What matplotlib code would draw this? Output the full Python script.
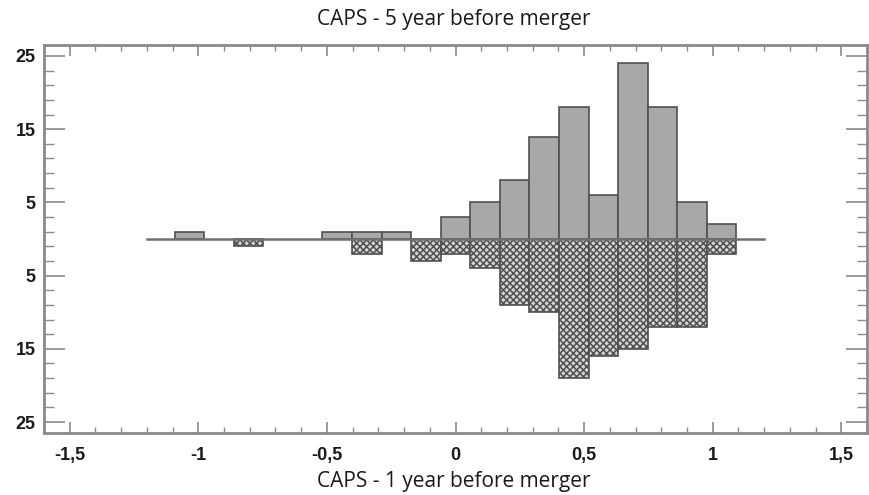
import matplotlib
matplotlib.use("Agg")
import matplotlib.pyplot as plt
import numpy as np
from matplotlib.ticker import FixedLocator, FuncFormatter

# Data: bin centres and counts
bin_centers = [-1.035, -0.920, -0.805, -0.690, -0.575, -0.460, -0.345, -0.230, -0.115,
               0.0, 0.115, 0.230, 0.345, 0.460, 0.575, 0.690, 0.805, 0.920, 1.035]
bin_width = 0.115
counts_5yr = [1, 0, 0, 0, 0, 1, 1, 1, 0, 3, 5, 8, 14, 18, 6, 24, 18, 5, 2]
counts_1yr = [0, 0, 1, 0, 0, 0, 2, 0, 3, 2, 4, 9, 10, 19, 16, 15, 12, 12, 2]

x_ticks = [-1.5, -1, -0.5, 0, 0.5, 1, 1.5]
y_ticks = [25, 15, 5, -5, -15, -25]

title_text = "CAPS - 5 year before merger"
xlabel_text = "CAPS - 1 year before merger"

plt.rcParams['hatch.linewidth'] = 1.1
plt.rcParams['hatch.color'] = '#2e2e2e'

fig = plt.figure(figsize=(8.69, 4.95), dpi=100)
ax = fig.add_axes([44/869, 1-433/495, (867-44)/869, (433-45)/495])

edge = '#505050'
x = np.array(bin_centers)
top = np.array(counts_5yr, dtype=float)
bot = -np.array(counts_1yr, dtype=float)
m_top = top != 0
m_bot = bot != 0
ax.bar(x[m_bot], bot[m_bot], width=bin_width, facecolor='#d4d4d4', edgecolor=edge,
       linewidth=1.2, hatch='xxxxx', zorder=2)
ax.bar(x[m_top], top[m_top], width=bin_width, facecolor='#a6a8aa', edgecolor=edge,
       linewidth=1.2, zorder=3)
ax.plot([-1.2, 1.2], [0, 0], color='#707070', linewidth=1.8, zorder=4)

ax.set_xlim(-1.6, 1.6)
ax.set_ylim(-26.5, 26.5)

ax.xaxis.set_major_locator(FixedLocator(x_ticks))
ax.xaxis.set_minor_locator(FixedLocator(np.round(np.arange(-1.6, 1.61, 0.1), 2)))
ax.yaxis.set_major_locator(FixedLocator(y_ticks))
ax.yaxis.set_minor_locator(FixedLocator(np.arange(-25, 26, 2)))

def xfmt(v, pos):
    s = ('%g' % v).replace('.', ',')
    return s
ax.xaxis.set_major_formatter(FuncFormatter(xfmt))
ax.yaxis.set_major_formatter(FuncFormatter(lambda v, p: '%d' % abs(v)))

spine_c = '#8a8a8a'
for s in ax.spines.values():
    s.set_color(spine_c)
    s.set_linewidth(2)

ax.tick_params(axis='x', which='major', direction='in', length=8, width=1.2, color=spine_c,
               top=True, bottom=True, pad=10)
ax.tick_params(axis='x', which='minor', direction='in', length=4, width=1.0, color=spine_c,
               top=True, bottom=True)
ax.tick_params(axis='y', which='major', direction='in', length=15, width=1.2, color=spine_c,
               left=True, right=True, pad=6)
ax.tick_params(axis='y', which='minor', direction='in', length=7, width=1.0, color=spine_c,
               left=True, right=True)
for lab in ax.get_xticklabels() + ax.get_yticklabels():
    lab.set_fontfamily('Liberation Sans')
    lab.set_fontweight('bold')
    lab.set_fontsize(13)
    lab.set_color('#1a1a1a')

fig.text(454/869, 1-20/495, title_text, ha='center', va='center', fontsize=15,
         family='Open Sans', color='#1a1a1a')
fig.text(454/869, 1-481/495, xlabel_text, ha='center', va='center', fontsize=15,
         family='Open Sans', color='#1a1a1a')

fig.savefig('out.png', dpi=100)
